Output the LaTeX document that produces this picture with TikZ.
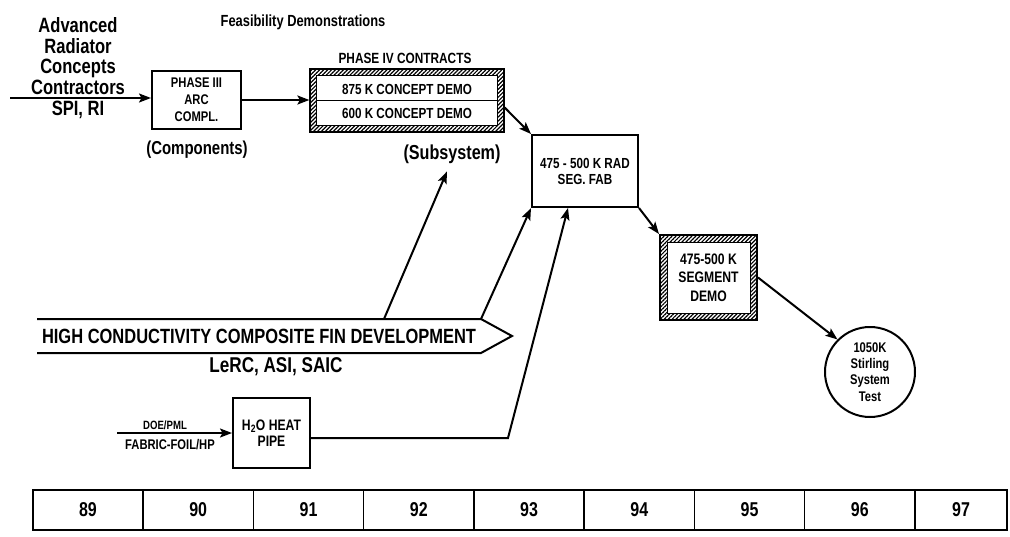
\documentclass[tikz,border=0pt]{standalone}
\usepackage{fontspec}
\setmainfont{Liberation Sans}[FakeStretch=0.8]
\usetikzlibrary{arrows.meta,patterns.meta}

\begin{document}
\begin{tikzpicture}[x=1pt,y=-1pt,line width=2pt,
    >={Stealth[length=12pt,width=9pt,inset=2.5pt]},
    txt/.style 2 args={font=\bfseries\fontsize{#1}{#2}\selectfont,align=center,inner sep=0pt},
    plainbox/.style={draw,inner sep=0pt},
    hatchbox/.style={draw,inner sep=0pt,pattern={Lines[angle=45,distance=2.8pt,line width=1.2pt]}},
    yearbox/.style={draw,line width=1.4pt,minimum height=40,txt={20}{22}}]
    \useasboundingbox (0,0) rectangle (1010,536);

    % phase III
    \node[txt={20.7}{20.75}] (contractors) at (78,68) {Advanced\\Radiator\\Concepts\\Contractors\\SPI, RI};
    \coordinate (arcin) at (10,98);
    \node[plainbox,minimum width=89,minimum height=58,txt={14}{17}] (arc) at (196.5,100) {PHASE III\\ARC\\COMPL.};
    \node[txt={18.7}{20}] (components) at (197,150) {(Components)};
    \node[txt={16.1}{18}] (feasibility) at (303,22) {Feasibility Demonstrations};
    \draw[->] (arcin) -- (arcin -| arc.west);

    % phase IV contracts
    \node[hatchbox,minimum width=194,minimum height=63] (phfour) at (407,100.5) {};
    \draw[line width=1pt,fill=white] ([shift={(7,7)}]phfour.north west) rectangle ([shift={(-7,-7)}]phfour.south east);
    \draw[line width=1pt] ([shift={(7,0)}]phfour.west) -- ([shift={(-7,0)}]phfour.east);
    \node[txt={14.8}{16}] (phfourtitle) at (405,58) {PHASE IV CONTRACTS};
    \node[txt={14.6}{16}] (demo875) at (407,89) {875 K CONCEPT DEMO};
    \node[txt={14.6}{16}] (demo600) at (407,113) {600 K CONCEPT DEMO};
    \node[txt={20.2}{22}] (subsystem) at (452,154) {(Subsystem)};
    \draw[->] (arc.east) -- (arc.east -| phfour.west);

    % radiator segment
    \node[plainbox,minimum width=106,minimum height=72,txt={14.6}{16}] (segfab) at (585,171) {475 - 500 K RAD\\SEG. FAB};
    \node[hatchbox,minimum width=97,minimum height=85] (segdemo) at (708.5,277.5) {};
    \draw[line width=1pt,fill=white] ([shift={(8,8)}]segdemo.north west) rectangle ([shift={(-8,-8)}]segdemo.south east);
    \node[txt={15.2}{18.5}] (segdemotext) at (segdemo) {475-500 K\\SEGMENT\\DEMO};
    \node[circle,draw,minimum size=90,txt={14}{16.3}] (stirling) at (870,372) {1050K\\Stirling\\System\\Test};
    \draw[->] ([shift={(0,7)}]phfour.east) -- (segfab.north west);
    \draw[->] (segfab.south east) -- (segdemo.north west);
    \draw[->] (segdemo.east) -- (stirling.north west);

    % composite fin
    \node[txt={20.6}{22},minimum width=442,minimum height=32] (fin) at (259,336) {HIGH CONDUCTIVITY COMPOSITE FIN DEVELOPMENT};
    \draw (fin.north west) -- (fin.north east) -- ([shift={(31,0)}]fin.east) -- (fin.south east) -- (fin.south west);
    \node[txt={21.4}{23}] (finteam) at (276,367) {LeRC, ASI, SAIC};
    \coordinate (subtip) at ([shift={(-5,7)}]subsystem.south);
    \draw[->] ([shift={(-97,0)}]fin.north east) -- (subtip);
    \draw[->] (fin.north east) -- (segfab.south west);

    % water heat pipe
    \node[plainbox,minimum width=77,minimum height=70,txt={15.2}{16}] (heatpipe) at (271.5,433) {H\textsubscript{2}O HEAT\\PIPE};
    \coordinate (doe) at (117,433);
    \node[txt={12}{13}] (doelbl) at (165,425) {DOE/PML};
    \node[txt={14}{15}] (fabric) at (170,445) {FABRIC-FOIL/HP};
    \draw[->] (doe) -- (heatpipe.west);
    \coordinate (pipebend) at (508,438);
    \draw[->] (heatpipe.east |- pipebend) -- (pipebend) -- ([shift={(-17,0)}]segfab.south);

    % years
    \foreach \yr [count=\i from 0] in {89,...,96}
        \node[yearbox,minimum width=110.25] (y\yr) at ({88+110.25*\i},510) {\yr};
    \node[yearbox,minimum width=92] (y97) at (961,510) {97};
\end{tikzpicture}
\end{document}
